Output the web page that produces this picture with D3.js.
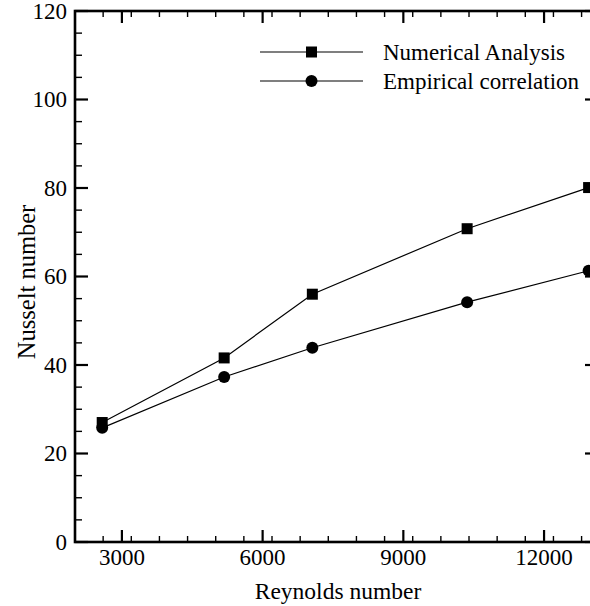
<!DOCTYPE html>
<html><head><meta charset="utf-8">
<script src="https://cdn.jsdelivr.net/npm/d3@7"></script>
<style>body{margin:0;background:#fff}svg{display:block}</style>
</head><body><svg id="c" width="590" height="606"></svg>
<script>
const reynolds = [2580, 5180, 7060, 10360, 12950];
const numerical = [27.0, 41.6, 56.0, 70.8, 80.1];
const empirical = [25.8, 37.3, 43.9, 54.2, 61.3];
const seriesNames = ["Numerical Analysis", "Empirical correlation"];
const xTicks = [3000, 6000, 9000, 12000];
const yTicks = [0, 20, 40, 60, 80, 100, 120];

const svg = d3.select("#c");
const font = "'Liberation Serif','Times New Roman',serif";
const xMin = 2000, xMax = 13150;
const x = d3.scaleLinear().domain([xMin, xMax]).range([75, 598]);
const y = d3.scaleLinear().domain([0, 120]).range([542, 11]);
const xMinor = d3.range(2600, xMax, 600).filter(v => !xTicks.includes(v));
const yMinor = d3.range(0, 121, 5).filter(v => !yTicks.includes(v));

const g = svg.append("g");
const line = d3.line().x((d,i)=>x(reynolds[i])).y(d=>y(d));
[numerical, empirical].forEach(s=>{
  g.append("path").attr("d", line(s)).attr("fill","none").attr("stroke","#000").attr("stroke-width",1.2);
});
g.selectAll(".sq").data(numerical).enter().append("rect")
  .attr("x",(d,i)=>x(reynolds[i])-5.5).attr("y",d=>y(d)-5.5).attr("width",11).attr("height",11).attr("fill","#000");
g.selectAll(".ci").data(empirical).enter().append("circle")
  .attr("cx",(d,i)=>x(reynolds[i])).attr("cy",d=>y(d)).attr("r",6).attr("fill","#000");

const ax = svg.append("g").attr("stroke","#000");
ax.append("rect").attr("x",x(xMin)).attr("y",y(120)).attr("width",x(xMax)-x(xMin)).attr("height",y(0)-y(120))
  .attr("fill","none").attr("stroke-width",2.6);

function xt(v, len){
  const w = len>8?2.2:1.4;
  ax.append("line").attr("x1",x(v)).attr("x2",x(v)).attr("y1",y(0)).attr("y2",y(0)-len).attr("stroke-width",w);
  ax.append("line").attr("x1",x(v)).attr("x2",x(v)).attr("y1",y(120)).attr("y2",y(120)+len).attr("stroke-width",w);
}
function yt(v, len){
  const w = len>8?2.2:1.4;
  ax.append("line").attr("y1",y(v)).attr("y2",y(v)).attr("x1",x(xMin)).attr("x2",x(xMin)+len).attr("stroke-width",w);
  ax.append("line").attr("y1",y(v)).attr("y2",y(v)).attr("x1",x(xMax)).attr("x2",x(xMax)-len).attr("stroke-width",w);
}
xTicks.forEach(v=>xt(v,12));
xMinor.forEach(v=>xt(v,6));
yTicks.forEach(v=>yt(v,13));
yMinor.forEach(v=>yt(v,7));

const txt = svg.append("g").attr("font-family",font).attr("font-size",23).attr("fill","#000");
xTicks.forEach(v=>txt.append("text").attr("x",x(v)).attr("y",565).attr("text-anchor","middle").text(v));
yTicks.forEach(v=>txt.append("text").attr("x",67).attr("y",y(v)).attr("dy","0.34em").attr("text-anchor","end").text(v));
txt.append("text").attr("x",338).attr("y",599).attr("text-anchor","middle").attr("font-size",23.5).text("Reynolds number");
txt.append("text").attr("transform","translate(35,282) rotate(-90)").attr("text-anchor","middle").attr("font-size",24.5).text("Nusselt number");

const leg = svg.append("g");
[52,81].forEach((ly,i)=>{
  leg.append("line").attr("x1",260).attr("x2",363).attr("y1",ly).attr("y2",ly).attr("stroke","#000").attr("stroke-width",1.2);
  if(i===0) leg.append("rect").attr("x",311.5-5.5).attr("y",ly-5.5).attr("width",11).attr("height",11);
  else leg.append("circle").attr("cx",311.5).attr("cy",ly).attr("r",6);
  leg.append("text").attr("x",383).attr("y",ly).attr("dy","0.35em").attr("font-family",font).attr("font-size",23).text(seriesNames[i]);
});
</script></body></html>
